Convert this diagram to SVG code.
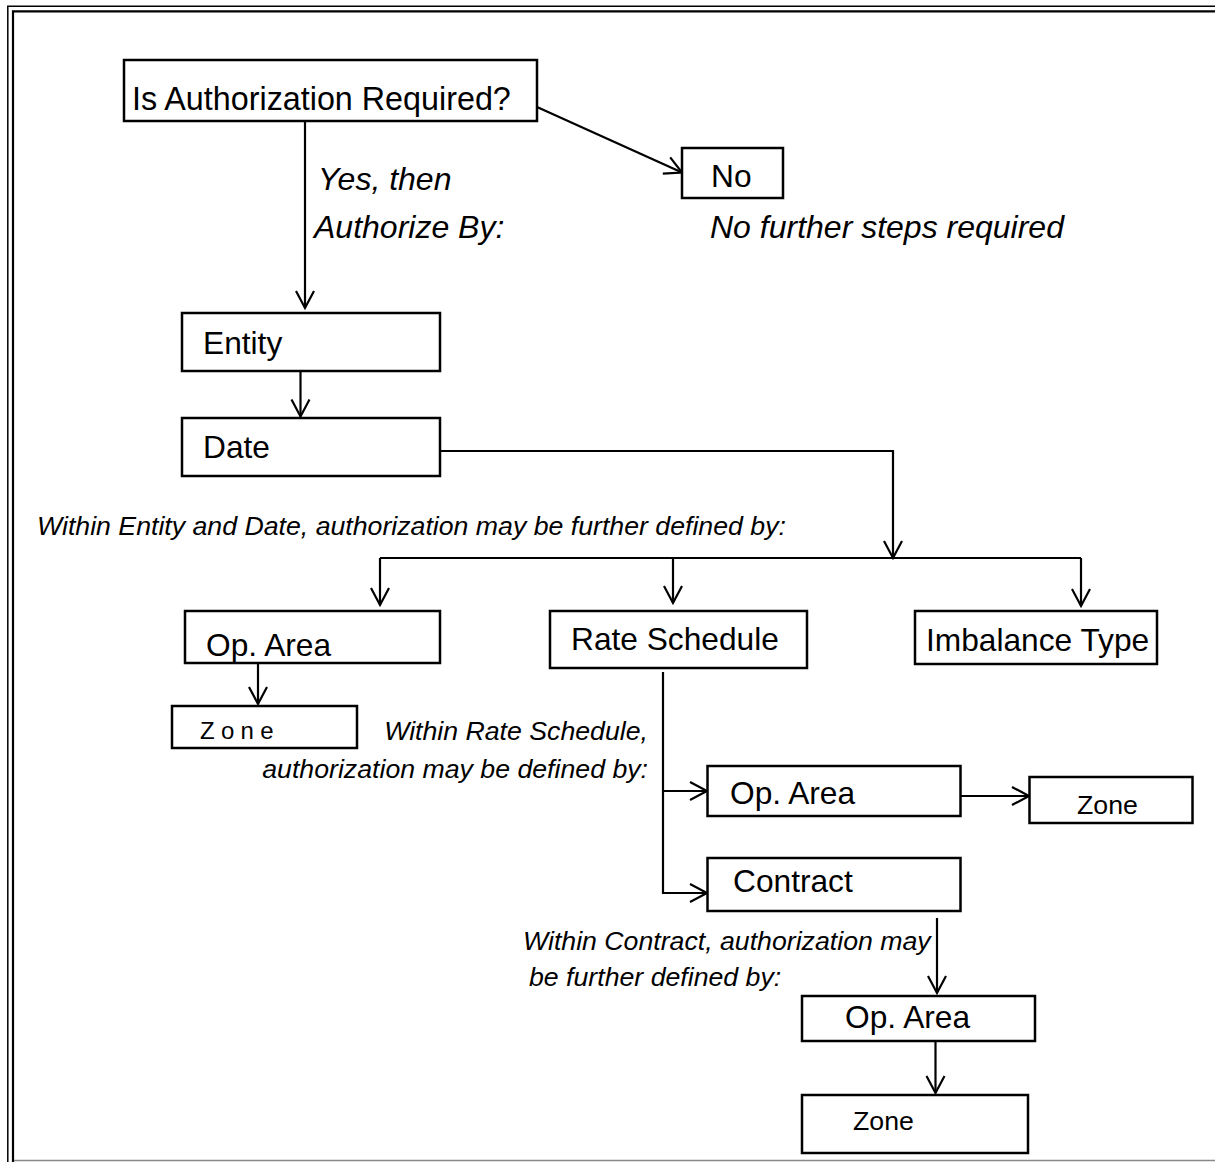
<svg xmlns="http://www.w3.org/2000/svg" width="1215" height="1162" viewBox="0 0 1215 1162">
<style>
.box{fill:#fff;stroke:#000;stroke-width:2.5}
.lbl{font-family:"Liberation Sans",Arial,sans-serif;font-size:31.7px;fill:#000}
.sm{font-family:"Liberation Sans",Arial,sans-serif;font-size:26.7px;fill:#000}
.note{font-family:"Liberation Sans",Arial,sans-serif;font-size:26.7px;font-style:italic;fill:#000}
.bnote{font-family:"Liberation Sans",Arial,sans-serif;font-size:32px;font-style:italic;fill:#000}
.ln{fill:none;stroke:#000;stroke-width:2.2}
.arr{fill:none;stroke:#000;stroke-width:2.2;marker-end:url(#ah)}
</style>
<defs>
<marker id="ah" markerUnits="userSpaceOnUse" markerWidth="24" markerHeight="24" refX="17" refY="9" orient="auto" overflow="visible">
<path d="M0,0 L17,9 L0,18" fill="none" stroke="#000" stroke-width="2.2"/>
</marker>
</defs>
<rect x="0" y="0" width="1215" height="1162" fill="#fff"/>
<g id="frame">
<path d="M7.8,1162 V6.2 H1215" fill="none" stroke="#000" stroke-width="1.5"/>
<path d="M13,1162 V11.3 H1215" fill="none" stroke="#000" stroke-width="2.2"/>
<line x1="14" y1="1160.5" x2="1215" y2="1160.5" stroke="#888" stroke-width="1.5"/>
</g>
<g id="connectors">
<line class="arr" x1="537" y1="107" x2="682" y2="172.5"/>
<line class="arr" x1="305" y1="121" x2="305" y2="308"/>
<line class="arr" x1="300.5" y1="371" x2="300.5" y2="416.5"/>
<polyline class="arr" points="437,451 893,451 893,558"/>
<line class="ln" x1="380" y1="558" x2="1081" y2="558"/>
<line class="arr" x1="380" y1="558" x2="380" y2="605"/>
<line class="arr" x1="673" y1="558" x2="673" y2="603"/>
<line class="arr" x1="1081" y1="558" x2="1081" y2="606"/>
<line class="arr" x1="258" y1="663" x2="258" y2="704"/>
<polyline class="arr" points="663,672 663,893 707,893"/>
<line class="arr" x1="663" y1="791" x2="707" y2="791"/>
<line class="arr" x1="961" y1="796" x2="1029" y2="796"/>
<line class="arr" x1="937" y1="918" x2="937" y2="993"/>
<line class="arr" x1="935.5" y1="1041" x2="935.5" y2="1093"/>
</g>
<g id="n-auth"><rect class="box" x="124" y="60" width="413" height="61"/><text class="lbl" x="132" y="110" style="font-size:32.3px">Is Authorization Required?</text></g>
<g id="n-no"><rect class="box" x="682" y="148" width="101" height="50"/><text class="lbl" x="711" y="187">No</text></g>
<g id="t-yes"><text class="bnote" x="318" y="190">Yes, then</text><text class="bnote" x="314" y="238">Authorize By:</text></g>
<g id="t-nofurther"><text class="bnote" x="710" y="238">No further steps required</text></g>
<g id="n-entity"><rect class="box" x="182" y="313" width="258" height="58"/><text class="lbl" x="203" y="354">Entity</text></g>
<g id="n-date"><rect class="box" x="182" y="418" width="258" height="58"/><text class="lbl" x="203" y="458">Date</text></g>
<g id="t-within-ed"><text class="note" x="37" y="535">Within Entity and Date, authorization may be further defined by:</text></g>
<g id="n-oparea1"><rect class="box" x="185" y="611" width="255" height="52"/><text class="lbl" x="206" y="656">Op. Area</text></g>
<g id="n-zone1"><rect class="box" x="172" y="706" width="185" height="42"/><text class="sm" x="200" y="739" style="font-size:24px" letter-spacing="6.3">Zone</text></g>
<g id="n-rate"><rect class="box" x="550" y="611" width="257" height="57"/><text class="lbl" x="571" y="650">Rate Schedule</text></g>
<g id="n-imb"><rect class="box" x="915" y="611" width="242" height="53"/><text class="lbl" x="926" y="651">Imbalance Type</text></g>
<g id="t-within-rs"><text class="note" x="648" y="740" text-anchor="end">Within Rate Schedule,</text><text class="note" x="648" y="778" text-anchor="end">authorization may be defined by:</text></g>
<g id="n-oparea2"><rect class="box" x="707.5" y="766" width="253" height="50"/><text class="lbl" x="730" y="804">Op. Area</text></g>
<g id="n-zone2"><rect class="box" x="1029.5" y="777" width="163" height="46"/><text class="sm" x="1077" y="814">Zone</text></g>
<g id="n-contract"><rect class="box" x="707.5" y="858" width="253" height="53"/><text class="lbl" x="733" y="892">Contract</text></g>
<g id="t-within-c"><text class="note" x="523" y="950">Within Contract, authorization may</text><text class="note" x="529" y="986">be further defined by:</text></g>
<g id="n-oparea3"><rect class="box" x="802" y="996" width="233" height="45"/><text class="lbl" x="845" y="1028">Op. Area</text></g>
<g id="n-zone3"><rect class="box" x="802" y="1095" width="226" height="58"/><text class="sm" x="853" y="1130">Zone</text></g>
</svg>
